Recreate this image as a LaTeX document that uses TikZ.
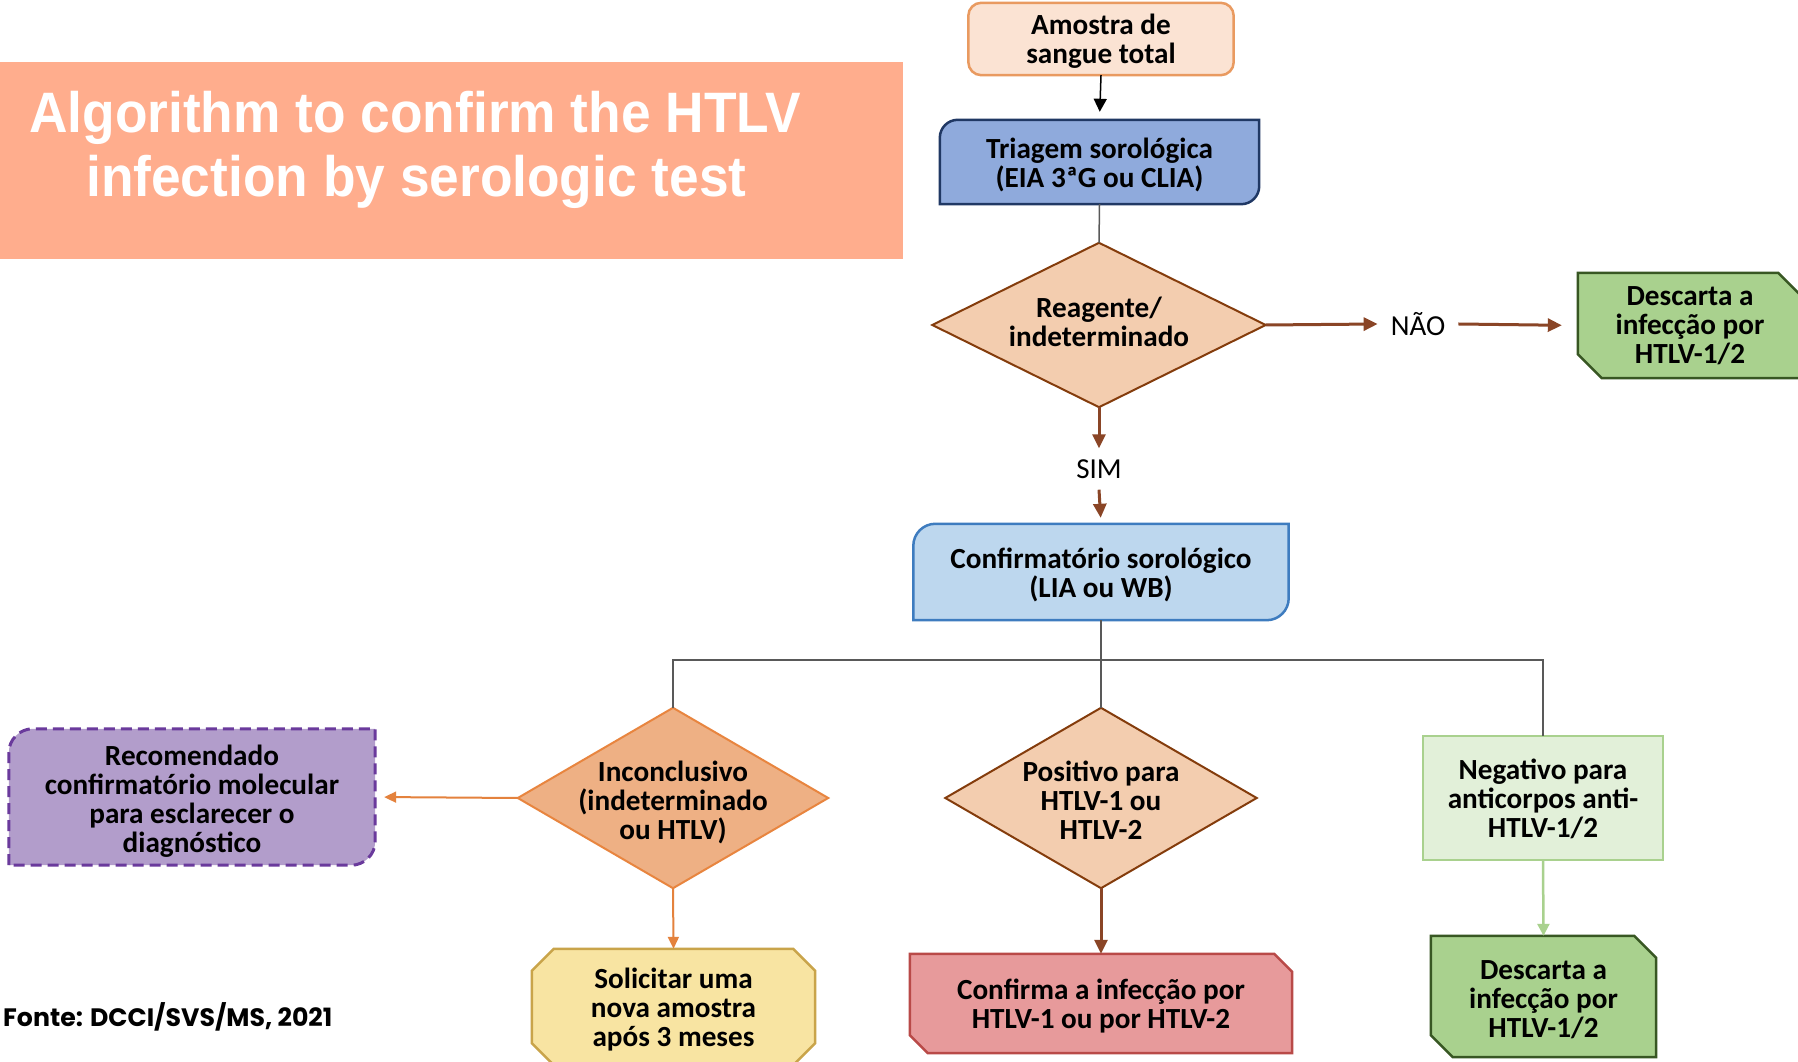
\documentclass[tikz,border=0pt]{standalone}
\usepackage{fontspec}
\setmainfont{Carlito}
\newfontfamily\titlefont[FakeStretch=0.935]{Liberation Sans}
\newfontfamily\fontefont{Poppins}
\usetikzlibrary{arrows.meta,backgrounds,calc}

\definecolor{titlebg}{HTML}{FFAD8D}
\definecolor{amfill}{HTML}{FBE3D3}
\definecolor{amdraw}{HTML}{E99A60}
\definecolor{trfill}{HTML}{8FAADC}
\definecolor{trdraw}{HTML}{203864}
\definecolor{dafill}{HTML}{F3CDAF}
\definecolor{dadraw}{HTML}{843C0C}
\definecolor{brownarr}{HTML}{8A4526}
\definecolor{gfill}{HTML}{A9D18E}
\definecolor{gdraw}{HTML}{385723}
\definecolor{cofill}{HTML}{BDD7EE}
\definecolor{codraw}{HTML}{3E7CBF}
\definecolor{greyln}{HTML}{595959}
\definecolor{iofill}{HTML}{EEB084}
\definecolor{iodraw}{HTML}{E8853F}
\definecolor{orarr}{HTML}{E4823D}
\definecolor{pufill}{HTML}{B29DCB}
\definecolor{pudraw}{HTML}{6A3A9C}
\definecolor{sofill}{HTML}{F8E4A2}
\definecolor{sodraw}{HTML}{C9A44A}
\definecolor{rdfill}{HTML}{E79A9B}
\definecolor{rddraw}{HTML}{B94A48}
\definecolor{ngfill}{HTML}{E2F0D9}
\definecolor{ngdraw}{HTML}{A9D18E}

\newcommand{\RoundTLBR}[3]{%
  \draw[#3] (#1.south west) -- ([yshift=-#2]#1.north west)
    arc[start angle=180,end angle=90,radius=#2] -- (#1.north east)
    -- ([yshift=#2]#1.south east)
    arc[start angle=0,end angle=-90,radius=#2] -- cycle;}
\newcommand{\ChamTRBL}[3]{%
  \draw[#3] (#1.north west) -- ([xshift=-#2]#1.north east)
    -- ([yshift=-#2]#1.north east) -- (#1.south east)
    -- ([xshift=#2]#1.south west) -- ([yshift=#2]#1.south west) -- cycle;}
\newcommand{\ChamAll}[3]{%
  \draw[#3] ([xshift=#2]#1.north west) -- ([xshift=-#2]#1.north east)
    -- ([yshift=-#2]#1.north east) -- ([yshift=#2]#1.south east)
    -- ([xshift=-#2]#1.south east) -- ([xshift=#2]#1.south west)
    -- ([yshift=#2]#1.south west) -- ([yshift=-#2]#1.north west) -- cycle;}
\newcommand{\Diam}[2]{%
  \draw[#2] (#1.north) -- (#1.east) -- (#1.south) -- (#1.west) -- cycle;}

\tikzset{
  shp/.style={inner sep=0pt},
  box/.style={font=\bfseries\fontsize{29.2}{29}\selectfont, align=center, inner sep=0pt, text=black},
  plain/.style={font=\fontsize{29}{29}\selectfont, inner sep=0pt, text=black},
  brownline/.style={draw=brownarr, line width=3pt, -{Triangle[length=14pt,width=13pt]}},
  blackline/.style={draw=black, line width=1.5pt, -{Triangle[length=13pt,width=13pt]}},
  orline/.style={draw=orarr, line width=2pt, -{Triangle[length=12pt,width=11pt]}},
  grline/.style={draw=ngdraw, line width=2.5pt, -{Triangle[length=12pt,width=12pt]}},
  greyline/.style={draw=greyln, line width=1.5pt},
}

\begin{document}
\begin{tikzpicture}[x=1pt,y=1pt]
\useasboundingbox (0,0) rectangle (1798,1061);
\begin{scope}[on background layer]
  \fill[white] (0,0) rectangle (1798,1061);
\end{scope}

% title
\fill[titlebg] (0,802) rectangle (903,999);
\node[anchor=base west, inner sep=0pt, text=white, font=\titlefont\bfseries\fontsize{57}{63}\selectfont] (t1) at (29,928) {Algorithm to confirm the HTLV};
\node[anchor=base west, inner sep=0pt, text=white, font=\titlefont\bfseries\fontsize{57}{63}\selectfont] (t2) at (86,864) {infection by serologic test};

% shape nodes
\node[shp, minimum width=265, minimum height=72] (amostra) at (1101,1022) {};
\node[shp, minimum width=319, minimum height=84] (triagem) at (1099.5,899) {};
\node[shp, minimum width=333, minimum height=164] (dia1) at (1099,736) {};
\node[shp, minimum width=224, minimum height=105] (desc1) at (1690,735.5) {};
\node[shp, minimum width=375, minimum height=96] (conf) at (1101,489) {};
\node[shp, minimum width=310, minimum height=180] (dia2) at (673,263) {};
\node[shp, minimum width=366, minimum height=136] (purple) at (192,264) {};
\node[shp, minimum width=283, minimum height=116] (solic) at (673.5,54) {};
\node[shp, minimum width=311, minimum height=180] (dia3) at (1101,263) {};
\node[shp, minimum width=382, minimum height=99] (confirma) at (1101,57.5) {};
\node[shp, minimum width=240, minimum height=124] (neg) at (1543,263) {};
\node[shp, minimum width=225, minimum height=121] (desc2) at (1543.5,64.5) {};

% texts
\node[box] (amostraT) at ([yshift=-2.5]amostra.center) {Amostra de\\sangue total};
\node[box] (triagemT) at ([yshift=-3]triagem.center) {Triagem sorológica\\(EIA 3ªG ou CLIA)};
\node[box] (dia1T) at ([yshift=3]dia1.center) {Reagente/\\indeterminado};
\node[box] (desc1T) at ([yshift=0]desc1.center) {Descarta a\\infecção por\\HTLV-1/2};
\node[box] (confT) at ([yshift=-3]conf.center) {Confirmatório sorológico\\(LIA ou WB)};
\node[box] (dia2T) at ([yshift=-4]dia2.center) {Inconclusivo\\(indeterminado\\ou HTLV)};
\node[box] (purpleT) at ([yshift=-4]purple.center) {Recomendado\\confirmatório molecular\\para esclarecer o\\diagnóstico};
\node[box] (solicT) at ([yshift=-2.5]solic.center) {Solicitar uma\\nova amostra\\após 3 meses};
\node[box] (dia3T) at ([yshift=-2]dia3.center) {Positivo para\\HTLV-1 ou\\HTLV-2};
\node[box] (confirmaT) at ([yshift=-2.5]confirma.center) {Confirma a infecção por\\HTLV-1 ou por HTLV-2};
\node[box] (negT) at ([yshift=-1]neg.center) {Negativo para\\anticorpos anti-\\HTLV-1/2};
\node[box] (desc2T) at ([yshift=-3]desc2.center) {Descarta a\\infecção por\\HTLV-1/2};
\node[plain, inner xsep=13pt] (nao) at (1418,737) {NÃO};
\node[plain, inner ysep=11pt] (sim) at (1099,592) {SIM};
\node[anchor=west, inner sep=0pt, font=\fontefont\bfseries\fontsize{25.2}{28}\selectfont] (fonte) at (3,44) {Fonte: DCCI/SVS/MS, 2021};

% shapes
\begin{scope}[on background layer]
  \draw[fill=amfill, draw=amdraw, line width=2.5pt, rounded corners=13pt] (amostra.south west) rectangle (amostra.north east);
  \RoundTLBR{triagem}{18}{fill=trfill, draw=trdraw, line width=2.5pt}
  \Diam{dia1}{fill=dafill, draw=dadraw, line width=2pt}
  \ChamTRBL{desc1}{24}{fill=gfill, draw=gdraw, line width=2.5pt}
  \RoundTLBR{conf}{22}{fill=cofill, draw=codraw, line width=2.5pt}
  \Diam{dia2}{fill=iofill, draw=iodraw, line width=2pt}
  \RoundTLBR{purple}{24}{fill=pufill, draw=pudraw, line width=3pt, dash pattern=on 11pt off 6pt}
  \ChamAll{solic}{22}{fill=sofill, draw=sodraw, line width=2.5pt}
  \Diam{dia3}{fill=dafill, draw=dadraw, line width=2pt}
  \ChamTRBL{confirma}{18}{fill=rdfill, draw=rddraw, line width=2.5pt}
  \draw[fill=ngfill, draw=ngdraw, line width=2.5pt] (neg.south west) rectangle (neg.north east);
  \ChamTRBL{desc2}{22}{fill=gfill, draw=gdraw, line width=2.5pt}
\end{scope}

% connectors
\coordinate (br) at (1101,401);
\draw[blackline, shorten >=8pt] (amostra.south) -- (triagem.north);
\draw[greyline] (triagem.south) -- (dia1.north);
\draw[brownline] (dia1.east) -- (nao.west);
\draw[brownline, shorten >=16pt] (nao.east) -- (desc1.west);
\draw[brownline] (dia1.south) -- (sim.north);
\draw[brownline, shorten >=6pt] (sim.south) -- (conf.north);
\draw[greyline] (conf.south) -- (dia3.north);
\draw[greyline] (dia2.north) -- (dia2.north |- br) -- (neg.north |- br) -- (neg.north);
\draw[orline, shorten >=9pt] (dia2.west) -- (purple.east);
\draw[orline] (dia2.south) -- (solic.north);
\draw[brownline] (dia3.south) -- (confirma.north);
\draw[grline] (neg.south) -- (desc2.north);
\end{tikzpicture}
\end{document}
